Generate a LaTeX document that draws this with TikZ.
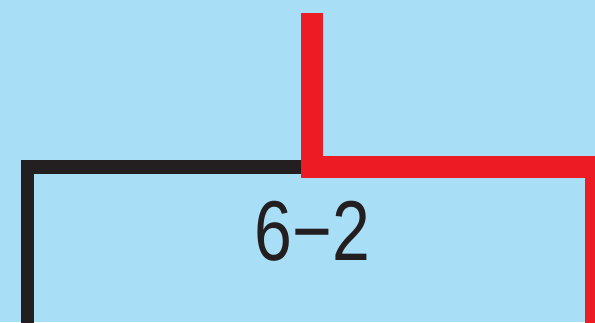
\documentclass[tikz,border=0pt]{standalone}
\usepackage{fontspec}
\setmainfont[FakeStretch=0.8]{Liberation Sans}
\definecolor{bgblue}{HTML}{A8DFF6}
\definecolor{lred}{HTML}{ED1C24}
\definecolor{lblack}{HTML}{231F20}
\tikzset{
  blackline/.style={draw=lblack, line width=13.5pt, line join=miter},
  redline/.style={draw=lred, line width=22pt, line join=miter},
  label/.style={inner sep=0pt, anchor=base, font=\fontsize{85}{85}\selectfont, text=lblack}
}
\begin{document}
\begin{tikzpicture}[x=1pt, y=-1pt]
\useasboundingbox (0,0) rectangle (595,322);
\fill[bgblue] (0,0) rectangle (595,322);
\coordinate (bstart) at (27.5,340);
\coordinate (bcorner) at (27.5,167);
\coordinate (bend) at (302,167);
\draw[blackline] (bstart) -- (bcorner) -- (bend);
\coordinate (rtop) at (311.5,13);
\coordinate (rcorner) at (311.5,166.7);
\coordinate (rcorner2) at (596,166.7);
\coordinate (rend) at (596,340);
\draw[redline] (rtop) -- (rcorner) -- (rcorner2) -- (rend);
\node[label] (title) at (312.5,260) {6−2};
\end{tikzpicture}
\end{document}
